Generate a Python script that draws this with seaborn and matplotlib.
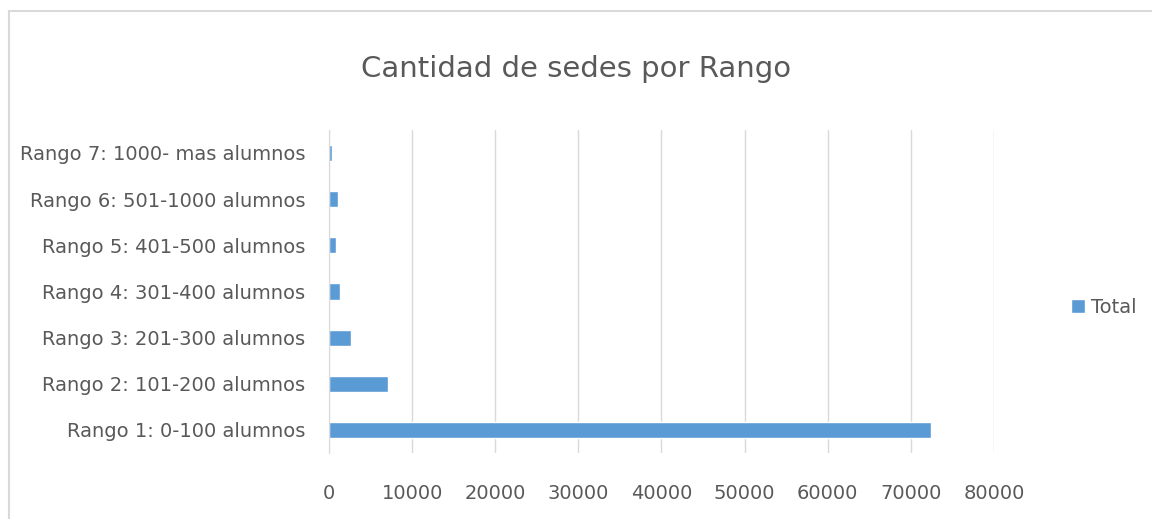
import pandas as pd
import seaborn as sns
import matplotlib.pyplot as plt
from matplotlib.patches import Rectangle

# Datos
rangos = [
    'Rango 7: 1000- mas alumnos',
    'Rango 6: 501-1000 alumnos',
    'Rango 5: 401-500 alumnos',
    'Rango 4: 301-400 alumnos',
    'Rango 3: 201-300 alumnos',
    'Rango 2: 101-200 alumnos',
    'Rango 1: 0-100 alumnos',
]
total = [300, 1100, 850, 1350, 2600, 7150, 72400]
ticks = [0, 10000, 20000, 30000, 40000, 50000, 60000, 70000, 80000]

df = pd.DataFrame({'Rango': rangos, 'Total': total})

sns.set_style('white')
plt.rcParams['font.family'] = ['DejaVu Sans']
gris = '#595959'
azul = '#5B9BD5'

fig = plt.figure(figsize=(11.52, 5.19), dpi=100)
ax = fig.add_axes([0.2856, 0.127, 0.8628 - 0.2856, 0.623])

sns.barplot(data=df, y='Rango', x='Total', color=azul, saturation=1, width=0.35,
            orient='h', ax=ax, label='Total')

ax.set_xlim(0, 80000)
ax.set_xticks(ticks)
ax.set_xticklabels([str(t) for t in ticks])
ax.grid(axis='x', color='#d9d9d9', linewidth=1)
ax.set_axisbelow(True)
for s in ['top', 'right', 'bottom']:
    ax.spines[s].set_visible(False)
ax.spines['left'].set_color('#d9d9d9')
ax.set_xlabel('')
ax.set_ylabel('')
ax.tick_params(axis='both', length=0, colors=gris, labelsize=14)
ax.tick_params(axis='x', pad=22)
ax.tick_params(axis='y', pad=17)

fig.text(0.5, 0.868, 'Cantidad de sedes por Rango', ha='center', va='center',
         fontsize=21, color=gris)

leg = ax.legend(loc='center left', bbox_to_anchor=(1.09, 0.45), frameon=False,
                fontsize=14, handlelength=0.7, handleheight=0.7, handletextpad=0.3)
for t in leg.get_texts():
    t.set_color(gris)

# marco exterior del gráfico
fig.patches.append(Rectangle((0.008, -0.01), 1.0, 0.988, transform=fig.transFigure,
                             fill=False, edgecolor='#d9d9d9', linewidth=1.5))

fig.savefig('out.png', dpi=100)
